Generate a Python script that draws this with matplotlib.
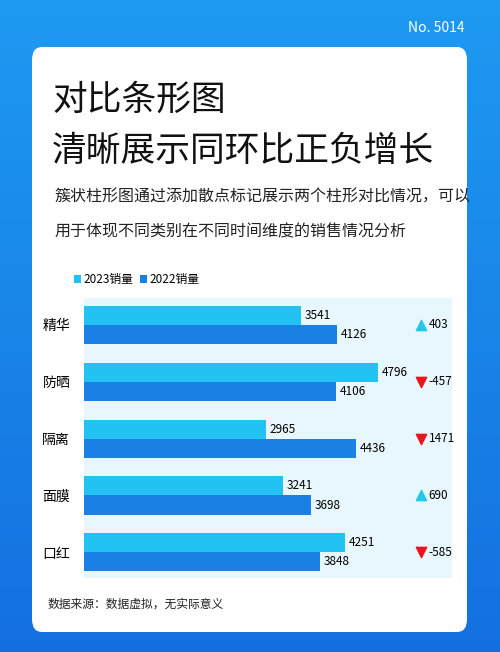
import numpy as np
import matplotlib.pyplot as plt
from matplotlib.patches import FancyBboxPatch

plt.rcParams['font.family'] = ['Noto Sans CJK SC', 'DejaVu Sans']

categories = ['精华', '防晒', '隔离', '面膜', '口红']
sales_2023 = [3541, 4796, 2965, 3241, 4251]
sales_2022 = [4126, 4106, 4436, 3698, 3848]
change_values = [403, -457, -1471, 690, -585]
change_labels = ['403', '-457', '1471', '690', '-585']

c2023 = '#22c3f3'
c2022 = '#1a80e6'

fig = plt.figure(figsize=(5, 6.52), dpi=100)

# gradient background
bg = fig.add_axes([0, 0, 1, 1])
grad = np.linspace(0, 1, 256).reshape(-1, 1)
bg.imshow(grad, aspect='auto', extent=[0, 1, 0, 1],
          cmap=plt.matplotlib.colors.LinearSegmentedColormap.from_list('g', ['#1e9af2', '#1470e0']))
bg.set_xlim(0, 1)
bg.set_ylim(0, 1)
bg.axis('off')
bg.add_patch(FancyBboxPatch((32 / 500, 20 / 652), 435 / 500, 585 / 652,
                            boxstyle='round,pad=0,rounding_size=0.02',
                            fc='white', ec='none', transform=bg.transAxes))

fig.text(0.93, 1 - 28 / 652, 'No. 5014', color='white', fontsize=10, ha='right', va='center')
fig.text(52 / 500, 1 - 100 / 652, '对比条形图', fontsize=25, va='center', color='#111111')
fig.text(52 / 500, 1 - 152 / 652, '清晰展示同环比正负增长', fontsize=25, va='center', color='#111111')
fig.text(54 / 500, 1 - 197 / 652, '簇状柱形图通过添加散点标记展示两个柱形对比情况，可以',
         fontsize=11.5, va='center', color='#222222')
fig.text(54 / 500, 1 - 232 / 652, '用于体现不同类别在不同时间维度的销售情况分析',
         fontsize=11.5, va='center', color='#222222')
fig.text(48 / 500, 1 - 604 / 652, '数据来源：数据虚拟，无实际意义', fontsize=8.5, va='center', color='#222222')

ax = fig.add_axes([84 / 500, 1 - 578 / 652, 368 / 500, 280 / 652])
ax.set_facecolor('#e8f7fd')
y = np.arange(len(categories))
h = 0.335
ax.barh(y - h / 2, sales_2023, height=h, color=c2023, label='2023销量')
ax.barh(y + h / 2, sales_2022, height=h, color=c2022, label='2022销量')
for i in range(len(categories)):
    ax.text(sales_2023[i] + 60, y[i] - h / 2, str(sales_2023[i]), va='center', fontsize=8.5)
    ax.text(sales_2022[i] + 60, y[i] + h / 2, str(sales_2022[i]), va='center', fontsize=8.5)
    up = change_values[i] > 0
    ax.scatter(5500, y[i], marker='^' if up else 'v', s=55,
               color='#22c8e8' if up else '#e8141e', zorder=3)
    ax.text(5620, y[i], change_labels[i], va='center', fontsize=8.5)
ax.set_xlim(0, 6000)
ax.set_ylim(4.45, -0.47)
ax.set_yticks(y)
ax.set_yticklabels(categories, fontsize=10)
ax.tick_params(axis='y', length=0, pad=10)
ax.set_xticks([])
for s in ax.spines.values():
    s.set_visible(False)
ax.legend(loc='lower left', bbox_to_anchor=(-0.04, 1.025), ncol=2, frameon=False,
          fontsize=8.5, handlelength=0.6, handleheight=0.6, handletextpad=0.2,
          columnspacing=0.6, borderaxespad=0)

fig.savefig('out.png', dpi=100)
